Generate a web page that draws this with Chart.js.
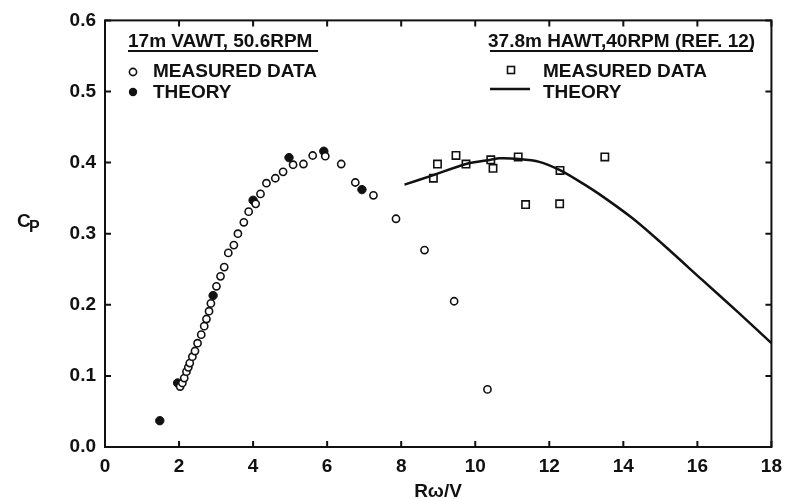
<!DOCTYPE html>
<html>
<head>
<meta charset="utf-8">
<script src="https://cdn.jsdelivr.net/npm/chart.js@4/dist/chart.umd.min.js"></script>
<style>
  html, body { margin: 0; padding: 0; background: #fff; }
  canvas { display: block; }
</style>
</head>
<body>
<canvas id="chart" width="790" height="499"></canvas>
<script>
// 17m VAWT, 50.6 RPM - measured
const vawtMeasX = [2.03, 2.09, 2.14, 2.20, 2.25, 2.29, 2.36, 2.43, 2.50, 2.60, 2.68, 2.74, 2.81, 2.86,
  3.01, 3.12, 3.22, 3.33, 3.48, 3.59, 3.75, 3.88, 4.07, 4.20, 4.36, 4.60, 4.81, 5.08, 5.36, 5.61,
  5.95, 6.38, 6.76, 7.25, 7.86, 8.63, 9.43, 10.33];
const vawtMeasY = [0.085, 0.090, 0.097, 0.106, 0.112, 0.118, 0.127, 0.135, 0.146, 0.158, 0.170, 0.180, 0.191, 0.202,
  0.226, 0.240, 0.253, 0.273, 0.284, 0.300, 0.316, 0.331, 0.342, 0.356, 0.371, 0.378, 0.387, 0.397, 0.398, 0.410,
  0.409, 0.398, 0.372, 0.354, 0.321, 0.277, 0.205, 0.081];
// 17m VAWT - theory
const vawtTheoX = [1.48, 1.96, 2.92, 4.00, 4.97, 5.91, 6.94];
const vawtTheoY = [0.037, 0.090, 0.213, 0.347, 0.407, 0.416, 0.362];
// 37.8m HAWT, 40 RPM - measured
const hawtMeasX = [8.87, 8.98, 9.48, 9.75, 10.42, 10.48, 11.16, 11.36, 12.28, 12.29, 13.50];
const hawtMeasY = [0.378, 0.398, 0.410, 0.398, 0.404, 0.392, 0.408, 0.341, 0.342, 0.389, 0.408];
// 37.8m HAWT - theory curve
const hawtTheoX = [8.09, 8.85, 9.75, 10.42, 10.65, 11.19, 11.73, 12.26, 12.80, 13.34, 14.24, 14.96, 16.13, 17.11, 18.0];
const hawtTheoY = [0.369, 0.382, 0.398, 0.404, 0.406, 0.405, 0.401, 0.390, 0.374, 0.356, 0.322, 0.290, 0.235, 0.189, 0.146];

const xMin = 0, xMax = 18, xStep = 2;
const yMin = 0, yMax = 0.6, yStep = 0.1;

const pts = (xs, ys) => xs.map((x, i) => ({ x: x, y: ys[i] }));
const INK = "#111";
const FONT = "'Liberation Sans', Arial, sans-serif";

const framePlugin = {
  id: "frame",
  afterDraw(chart) {
    const ctx = chart.ctx;
    const { left, right, top, bottom } = chart.chartArea;
    const x = chart.scales.x, y = chart.scales.y;
    ctx.save();
    ctx.strokeStyle = INK;
    ctx.lineWidth = 2;
    ctx.strokeRect(left, top, right - left, bottom - top);
    // inward ticks on all sides
    ctx.beginPath();
    x.ticks.forEach((t) => {
      const px = x.getPixelForValue(t.value);
      ctx.moveTo(px, bottom); ctx.lineTo(px, bottom - 6);
      ctx.moveTo(px, top); ctx.lineTo(px, top + 6);
    });
    y.ticks.forEach((t) => {
      const py = y.getPixelForValue(t.value);
      ctx.moveTo(left, py); ctx.lineTo(left + 6, py);
      ctx.moveTo(right, py); ctx.lineTo(right - 6, py);
    });
    ctx.stroke();

    ctx.fillStyle = INK;
    ctx.textBaseline = "alphabetic";
    ctx.font = "bold 19px " + FONT;

    // left legend
    ctx.textAlign = "left";
    const t1 = "17m VAWT, 50.6RPM";
    ctx.fillText(t1, 128, 47);
    ctx.fillRect(128, 50, 190, 2);
    ctx.fillText("MEASURED DATA", 153, 77);
    ctx.fillText("THEORY", 153, 98);
    ctx.lineWidth = 1.6;
    ctx.beginPath(); ctx.arc(133, 72, 3.6, 0, Math.PI * 2); ctx.stroke();
    ctx.beginPath(); ctx.arc(133, 92, 4.2, 0, Math.PI * 2); ctx.fill();

    // right legend
    const t2 = "37.8m HAWT,40RPM (REF. 12)";
    ctx.fillText(t2, 488, 47);
    ctx.fillRect(490, 50, 263, 2);
    ctx.fillText("MEASURED DATA", 543, 77);
    ctx.fillText("THEORY", 543, 98);
    ctx.strokeRect(507.5, 66.5, 7, 7);
    ctx.lineWidth = 2.5;
    ctx.beginPath(); ctx.moveTo(490, 89); ctx.lineTo(530, 89); ctx.stroke();

    // axis titles
    ctx.textAlign = "center";
    ctx.fillText("R\u03c9/V", 438, 497);
    ctx.textAlign = "left";
    ctx.fillText("C", 17, 227);
    ctx.font = "bold 16px " + FONT;
    ctx.fillText("P", 29, 232);
    ctx.restore();
  }
};

new Chart(document.getElementById("chart").getContext("2d"), {
  type: "scatter",
  data: {
    datasets: [
      {
        label: "HAWT theory",
        data: pts(hawtTheoX, hawtTheoY),
        showLine: true,
        borderColor: INK,
        borderWidth: 2.5,
        pointRadius: 0,
        tension: 0.25
      },
      {
        label: "VAWT measured",
        data: pts(vawtMeasX, vawtMeasY),
        pointStyle: "circle",
        pointRadius: 3.6,
        borderWidth: 1.6,
        borderColor: INK,
        backgroundColor: "#fff"
      },
      {
        label: "HAWT measured",
        data: pts(hawtMeasX, hawtMeasY),
        pointStyle: "rect",
        pointRadius: 5.2,
        borderWidth: 1.6,
        borderColor: INK,
        backgroundColor: "#fff"
      },
      {
        label: "VAWT theory",
        data: pts(vawtTheoX, vawtTheoY),
        pointStyle: "circle",
        pointRadius: 4.2,
        borderWidth: 1,
        borderColor: INK,
        backgroundColor: INK
      }
    ]
  },
  options: {
    responsive: false,
    animation: false,
    devicePixelRatio: 1,
    layout: { padding: { top: 14, right: 17, left: 0, bottom: 0 } },
    plugins: { legend: { display: false }, tooltip: { enabled: false } },
    scales: {
      x: {
        type: "linear",
        min: xMin, max: xMax,
        grid: { display: false, drawTicks: false },
        border: { display: false },
        ticks: { stepSize: xStep, padding: 8, color: INK, font: { family: FONT, size: 19, weight: "bold" } },
        afterFit: (s) => { s.height = 52; }
      },
      y: {
        type: "linear",
        min: yMin, max: yMax,
        grid: { display: false, drawTicks: false },
        border: { display: false },
        ticks: {
          stepSize: yStep, padding: 9, color: INK,
          font: { family: FONT, size: 19, weight: "bold" },
          callback: (v) => v.toFixed(1)
        },
        afterFit: (s) => { s.width = 105; }
      }
    }
  },
  plugins: [framePlugin]
});
</script>
</body>
</html>
